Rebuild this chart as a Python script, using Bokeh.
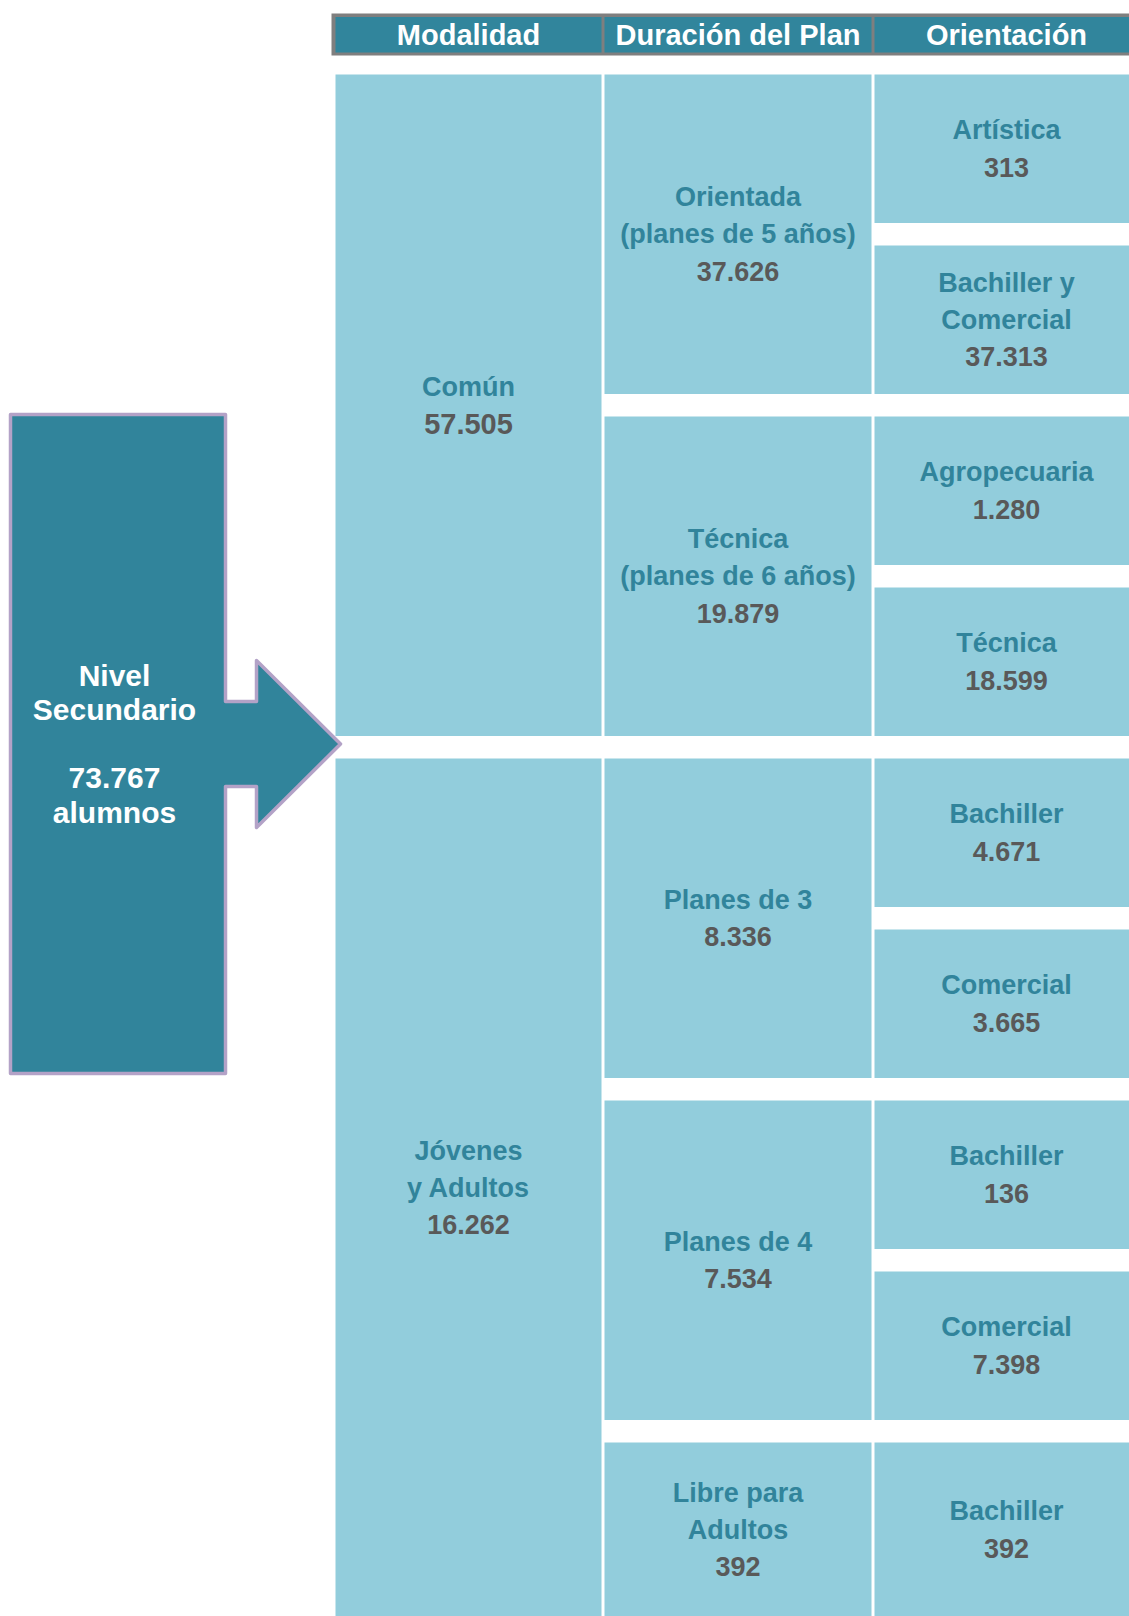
from bokeh.plotting import figure
from bokeh.models import ColumnDataSource, Range1d
from bokeh.core.properties import value
from bokeh.embed import file_html
from bokeh.resources import INLINE

# ---------------- data ----------------
total_label = "Nivel\nSecundario"
total_value = 73767
total_unit = "alumnos"

headers = ["Modalidad", "Duración del Plan", "Orientación"]

modalidad_labels = ["Común", "Jóvenes\ny Adultos"]
modalidad_values = [57505, 16262]

duracion_labels = ["Orientada\n(planes de 5 años)", "Técnica\n(planes de 6 años)",
                   "Planes de 3", "Planes de 4", "Libre para\nAdultos"]
duracion_values = [37626, 19879, 8336, 7534, 392]
duracion_parent = [0, 0, 1, 1, 1]

orient_labels = ["Artística", "Bachiller y\nComercial", "Agropecuaria", "Técnica",
                 "Bachiller", "Comercial", "Bachiller", "Comercial", "Bachiller"]
orient_values = [313, 37313, 1280, 18599, 4671, 3665, 136, 7398, 392]
orient_parent = [0, 0, 1, 1, 2, 2, 3, 3, 4]

# ---------------- style / layout ----------------
FONT = value("Liberation Sans")
BOX = "#92CDDC"
TEAL = "#31849B"
GRAY = "#595959"
HEAD = "#31859C"
HEAD_BORDER = "#7F7F7F"
ARROW_LINE = "#B3A2C7"

W, H = 1129, 1616

cols = [(335, 601), (604, 871), (874, 1138)]
body_top, pitch, leaf_h, page_bottom = 74, 171, 148.5, 1630
spacing = 37


def fmt(v):
    return f"{v:,}".replace(",", ".")


p = figure(width=W, height=H, x_range=Range1d(0, W), y_range=Range1d(H, 0),
           output_backend="svg", toolbar_location=None, min_border=0)
p.axis.visible = False
p.grid.visible = False
p.outline_line_color = None
p.background_fill_color = "white"
p.border_fill_color = "white"

# leaf spans
n_leaf = len(orient_labels)
leaf_top = [body_top + pitch * i for i in range(n_leaf)]
leaf_bot = [t + leaf_h for t in leaf_top]
leaf_bot[-1] = page_bottom

dur_top, dur_bot = [], []
for j in range(len(duracion_labels)):
    idx = [i for i, par in enumerate(orient_parent) if par == j]
    dur_top.append(min(leaf_top[i] for i in idx))
    dur_bot.append(max(leaf_bot[i] for i in idx))

mod_top, mod_bot = [], []
for k in range(len(modalidad_labels)):
    idx = [j for j, par in enumerate(duracion_parent) if par == k]
    mod_top.append(min(dur_top[j] for j in idx))
    mod_bot.append(max(dur_bot[j] for j in idx))

levels = [
    (cols[0], mod_top, mod_bot, modalidad_labels, modalidad_values, True),
    (cols[1], dur_top, dur_bot, duracion_labels, duracion_values, False),
    (cols[2], leaf_top, leaf_bot, orient_labels, orient_values, False),
]

txt = dict(x=[], y=[], text=[], color=[], size=[])

for (x0, x1), tops, bots, labels, vals, first in levels:
    p.quad(left=[x0] * len(tops), right=[x1] * len(tops), top=tops, bottom=bots,
           fill_color=BOX, line_color=None)
    for k, (t, b, lab, v) in enumerate(zip(tops, bots, labels, vals)):
        lines = lab.split("\n") + [fmt(v)]
        n = len(lines)
        cy = (min(b, H) + t) / 2
        cx = (x0 + x1) / 2
        for i, s in enumerate(lines):
            txt["x"].append(cx)
            txt["y"].append(cy + (i - (n - 1) / 2) * spacing)
            txt["text"].append(s)
            is_num = i == n - 1
            txt["color"].append(GRAY if is_num else TEAL)
            txt["size"].append(("29px" if (first and k == 0) else "27px") if is_num else "27px")

p.text(x="x", y="y", text="text", text_color="color", text_font_size="size",
       source=ColumnDataSource(txt), text_font=FONT, text_font_style="bold",
       text_align="center", text_baseline="middle")

# header
p.quad(left=[331], right=[1145], top=[13], bottom=[55], fill_color=HEAD_BORDER, line_color=None)
p.quad(left=[c[0] for c in cols], right=[c[1] for c in cols], top=[16.5] * 3, bottom=[52] * 3,
       fill_color=HEAD, line_color=None)
p.text(x=[(c[0] + c[1]) / 2 for c in cols], y=[34.5] * 3, text=headers,
       text_color="white", text_font_size="29px", text_font=FONT, text_font_style="bold",
       text_align="center", text_baseline="middle")

# arrow
ax = [10, 225, 225, 256, 256, 340, 256, 256, 225, 225, 10]
ay = [414, 414, 701, 701, 660, 743.5, 827, 786, 786, 1073, 1073]
p.patch(ax, ay, fill_color=TEAL, line_color=ARROW_LINE, line_width=3.5, line_join="round")

alines = total_label.split("\n") + ["", fmt(total_value), total_unit]
na = len(alines)
acy = (414 + 1073) / 2
p.text(x=[114] * na, y=[acy + (i - (na - 1) / 2) * 34.3 for i in range(na)], text=alines,
       text_color="white", text_font_size="30px", text_font=FONT, text_font_style="bold",
       text_align="center", text_baseline="middle")

open("out.html", "w").write(file_html(p, INLINE))
